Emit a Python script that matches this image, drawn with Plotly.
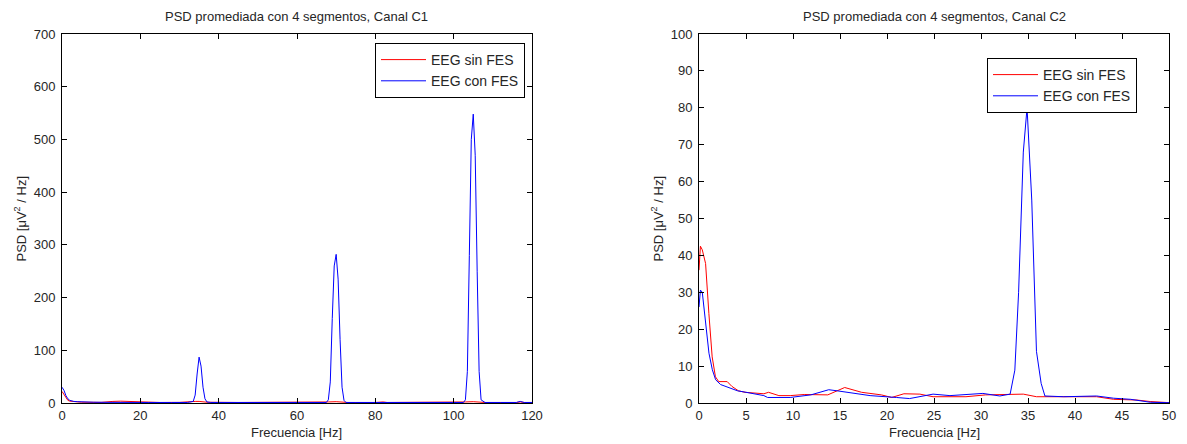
import plotly.graph_objects as go

# ---- Channel C1 (0-120 Hz) ----
c1_red_f = [0, 0.5, 1, 1.5, 2, 3, 4, 5, 10, 12, 13, 15, 17, 18, 19, 25, 30, 31, 33, 34, 35, 36, 37,
            45, 60, 67, 68, 70, 72, 73, 80, 82, 83, 95, 102, 103, 105, 107, 108, 116, 117, 118, 120]
c1_red_v = [22, 16, 9, 5, 3.5, 2.5, 2, 1.5, 1.2, 1.5, 3, 3.5, 3, 3, 1.5, 1, 1.2, 2, 2.5, 3, 3, 2.5, 1.5,
            1, 1, 1, 2, 2.5, 2, 1, 1, 2, 1, 1, 1, 2, 2.5, 2, 1, 1, 2, 1, 1]

c1_blue_f = [0, 0.5, 1, 1.5, 2, 2.5, 3, 4, 5, 8, 12, 15, 18, 22, 28, 32,
             33.5, 34, 34.5, 35, 35.5, 36, 36.5, 37, 38, 45, 55, 65,
             67.5, 68, 68.5, 69, 69.5, 70, 70.5, 71, 71.5, 72, 72.5, 75, 85, 95,
             102.5, 103, 103.5, 104, 104.5, 105, 105.5, 106, 106.5, 107, 108,
             112, 116, 117, 118, 120]
c1_blue_v = [30, 24, 14, 8, 5, 4, 3, 2.5, 2, 1.5, 1.2, 1.5, 1.2, 1, 1, 1,
             3, 15, 55, 87, 70, 30, 8, 2, 1, 1, 1, 1,
             1, 6, 40, 160, 260, 282, 235, 120, 30, 5, 1, 1, 1, 1,
             1, 6, 60, 280, 500, 548, 470, 250, 60, 6, 1,
             1, 1, 3, 1, 1]

# ---- Channel C2 (0-50 Hz) ----
c2_red_f = [0, 0.15, 0.35, 0.7, 1.05, 1.4, 1.75, 2.1, 3.0, 3.5, 4.2, 4.9, 6.9, 7.4, 8.5, 9.7, 11.2, 13.7,
            15.5, 17.3, 19.4, 20.5, 21.8, 23.5, 24.9, 28.4, 30.5, 32.7, 34.5, 35.9, 38.8, 42.3, 44.1, 46.6,
            48, 49.7, 50]
c2_red_v = [36, 42.5, 41.5, 37.8, 24.3, 12.5, 7.1, 5.8, 5.8, 4.5, 3.3, 2.9, 2.5, 2.9, 2.0, 2.0, 2.3, 2.2,
            4.2, 2.9, 2.2, 1.5, 2.5, 2.4, 1.7, 1.7, 2.2, 2.4, 2.4, 1.7, 1.7, 1.7, 1.0, 0.8,
            0.4, 0.1, 0.1]

c2_blue_f = [0, 0.15, 0.35, 0.7, 1.06, 1.42, 1.77, 2.3, 3.4, 4.1, 5.0, 6.9, 7.3, 9.7, 11.9, 13.8, 14.7, 16.1,
             18.2, 21.0, 22.4, 24.9, 26.7, 30.2, 32.0, 33.1, 33.6, 34.0, 34.5, 34.9, 35.4, 35.9, 36.4, 36.8,
             38.8, 42.3, 44.1, 45.9, 48.0, 49.7, 50]
c2_blue_v = [26, 30.6, 30, 22.5, 13.5, 9, 6.3, 5, 4.0, 3.3, 2.9, 2.0, 1.5, 1.5, 2.2, 3.6, 3.3, 2.7,
             2.0, 1.5, 1.2, 2.4, 2.0, 2.6, 1.9, 2.4, 8.9, 30, 68, 80, 55, 14, 5.3, 1.9,
             1.7, 1.9, 1.3, 1.0, 0.2, 0.1, 0.1]

series_names = ["EEG sin FES", "EEG con FES"]
titles = ["PSD promediada con 4 segmentos, Canal C1", "PSD promediada con 4 segmentos, Canal C2"]
x_title = "Frecuencia [Hz]"
y_title = "PSD [μV<sup>2</sup> / Hz]"
c1_xticks = [0, 20, 40, 60, 80, 100, 120]
c1_yticks = [0, 100, 200, 300, 400, 500, 600, 700]
c2_xticks = [0, 5, 10, 15, 20, 25, 30, 35, 40, 45, 50]
c2_yticks = [0, 10, 20, 30, 40, 50, 60, 70, 80, 90, 100]

FONT = "Liberation Sans, Arial, sans-serif"
TXT = "#262626"
RED = "#ff0000"
BLUE = "#0000ff"
FS = 13

fig = go.Figure()
fig.add_trace(go.Scatter(x=c1_red_f, y=c1_red_v, mode="lines", name=series_names[0],
                         line=dict(color=RED, width=1), xaxis="x", yaxis="y", legend="legend"))
fig.add_trace(go.Scatter(x=c1_blue_f, y=c1_blue_v, mode="lines", name=series_names[1],
                         line=dict(color=BLUE, width=1), xaxis="x", yaxis="y", legend="legend"))
fig.add_trace(go.Scatter(x=c2_red_f, y=c2_red_v, mode="lines", name=series_names[0],
                         line=dict(color=RED, width=1), xaxis="x2", yaxis="y2", legend="legend2"))
fig.add_trace(go.Scatter(x=c2_blue_f, y=c2_blue_v, mode="lines", name=series_names[1],
                         line=dict(color=BLUE, width=1), xaxis="x2", yaxis="y2", legend="legend2"))

W, H = 1187, 444
L1, R1 = 62, 532
L2, R2 = 699, 1169
TOP, BOT = 34, 403

axis_common = dict(showline=True, linecolor="black", linewidth=1, mirror="ticks",
                   ticks="inside", ticklen=5, tickcolor="black", showgrid=False, zeroline=False,
                   automargin=False, tickfont=dict(family=FONT, size=FS, color=TXT))
ydom = [1 - BOT / H, 1 - TOP / H]

legend_common = dict(xanchor="right", yanchor="top", bordercolor="black", borderwidth=1,
                     bgcolor="white", font=dict(family=FONT, size=14, color=TXT),
                     tracegroupgap=0, itemwidth=45)

fig.update_layout(
    width=W, height=H,
    margin=dict(l=0, r=0, t=0, b=0),
    paper_bgcolor="white", plot_bgcolor="white",
    font=dict(family=FONT, size=FS, color=TXT),
    xaxis=dict(domain=[L1 / W, R1 / W], range=[0, 120], tickvals=c1_xticks, anchor="y", **axis_common),
    yaxis=dict(domain=ydom, range=[0, 700], tickvals=c1_yticks, anchor="x", ticklabelstandoff=3,
               **axis_common),
    xaxis2=dict(domain=[L2 / W, R2 / W], range=[0, 50], tickvals=c2_xticks, anchor="y2", **axis_common),
    yaxis2=dict(domain=ydom, range=[0, 100], tickvals=c2_yticks, anchor="x2", ticklabelstandoff=3,
                **axis_common),
    legend=dict(x=525 / W, y=1 - 43 / H, **legend_common),
    legend2=dict(x=1137 / W, y=1 - 58 / H, **legend_common),
    showlegend=True,
)

def ann(text, x, y, angle=0):
    fig.add_annotation(text=text, x=x / W, y=1 - y / H, xref="paper", yref="paper",
                       showarrow=False, xanchor="center", yanchor="middle", textangle=angle,
                       font=dict(family=FONT, size=FS, color=TXT))

ann(titles[0], (L1 + R1) / 2, 17)
ann(titles[1], (L2 + R2) / 2, 17)
ann(x_title, (L1 + R1) / 2, 432)
ann(x_title, (L2 + R2) / 2, 432)
ann(y_title, 20, (TOP + BOT) / 2, -90)
ann(y_title, 657, (TOP + BOT) / 2, -90)

fig.write_html("out.html")
